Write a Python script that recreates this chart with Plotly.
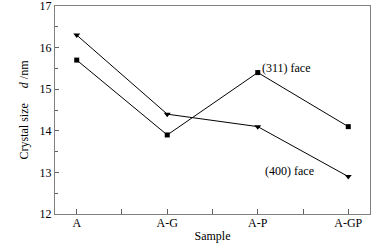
import plotly.graph_objects as go

samples = ["A", "A-G", "A-P", "A-GP"]
face311 = [15.7, 13.9, 15.4, 14.1]
face400 = [16.3, 14.4, 14.1, 12.9]
xpos = [0, 1, 2, 3]

FONT = "Liberation Serif"

fig = go.Figure()
fig.add_trace(go.Scatter(x=xpos, y=face311, mode="lines+markers",
                         line=dict(color="black", width=1),
                         marker=dict(symbol="square", size=5, color="black"),
                         showlegend=False))
fig.add_trace(go.Scatter(x=xpos, y=face400, mode="lines+markers",
                         line=dict(color="black", width=1),
                         marker=dict(symbol="triangle-down", size=6, color="black"),
                         showlegend=False))

fig.add_annotation(x=2.03, y=15.5, text="(311) face", showarrow=False,
                   xanchor="left", yanchor="middle",
                   font=dict(family=FONT, size=12, color="black"))
fig.add_annotation(x=2.06, y=13.03, text="(400) face", showarrow=False,
                   xanchor="left", yanchor="middle",
                   font=dict(family=FONT, size=12, color="black"))

axis_common = dict(showline=True, linecolor="#808080", linewidth=1, mirror=True,
                   showgrid=False, zeroline=False, ticks="inside", tickcolor="#606060",
                   automargin=False, ticklabeloverflow="allow",
                   tickfont=dict(family=FONT, size=12, color="black"))

fig.update_xaxes(range=[-0.24, 3.24], tickmode="array", tickvals=xpos, ticktext=samples,
                 ticklen=5, ticklabelstandoff=-2,
                 title=dict(text="Sample", standoff=2,
                            font=dict(family=FONT, size=12, color="black")),
                 minor=dict(ticks="inside", tickmode="linear", tick0=0.5, dtick=1, ticklen=5,
                            tickcolor="#606060"),
                 **axis_common)
fig.update_yaxes(range=[12, 17], tickmode="linear", tick0=12, dtick=1, ticklen=4,
                 title=dict(text="Crystal size &nbsp;&nbsp;&nbsp;&nbsp;<i>d</i> /nm", standoff=8,
                            font=dict(family=FONT, size=12, color="black")),
                 minor=dict(ticks="inside", tickmode="linear", tick0=12.5, dtick=1, ticklen=3,
                            tickcolor="#606060"),
                 **axis_common)

fig.update_layout(width=390, height=250, margin=dict(l=55, r=20, t=6, b=36),
                  plot_bgcolor="white", paper_bgcolor="white")
fig.write_html("out.html", config={"displayModeBar": False},
               post_script="document.body.style.margin='0';")
